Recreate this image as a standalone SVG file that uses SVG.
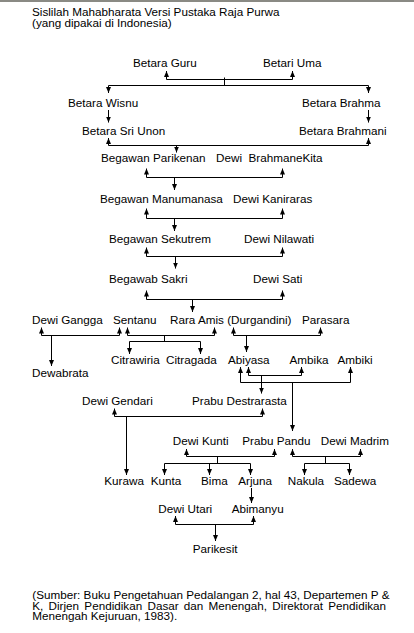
<svg xmlns="http://www.w3.org/2000/svg" width="414" height="633" viewBox="0 0 414 633">
<style>
text{font-family:"Liberation Sans",Arial,sans-serif;font-size:11.7px;fill:#000}
.c path{fill:none;stroke:#000;stroke-width:1}
.a{marker-end:url(#ah)}
.b{marker-start:url(#ah);marker-end:url(#ah)}
</style>
<defs>
<marker id="ah" viewBox="0 0 6 6" refX="6" refY="3" markerWidth="6" markerHeight="6" markerUnits="userSpaceOnUse" orient="auto-start-reverse">
<path d="M0,0.5 L6,3 L0,5.5 z" fill="#000"/>
</marker>
</defs>
<rect x="0" y="0" width="414" height="2" fill="#8a8a84"/>
<g id="title">
<text x="32" y="16">Sislilah Mahabharata Versi Pustaka Raja Purwa</text>
<text x="32" y="27">(yang dipakai di Indonesia)</text>
</g>
<g class="c" id="connectors">
<path class="b" d="M166.5,71 V79.5 H292.5 V71"/>
<path d="M224.5,77.5 V85.5"/>
<path class="b" d="M108.5,93 V85.5 H368.5 V93"/>
<path class="a" d="M108.5,110 V122.5"/>
<path class="a" d="M368.5,110 V122.5"/>
<path class="b" d="M108.5,138 V145.5 H368.5 V138"/>
<path class="a" d="M176.5,145.5 V152.5"/>
<path class="b" d="M146.5,168.5 V177.5 H282.5 V168.5"/>
<path class="a" d="M174.5,177.5 V190"/>
<path class="b" d="M146.5,208.5 V218.5 H282.5 V208.5"/>
<path class="a" d="M174.5,218.5 V231"/>
<path class="b" d="M146.5,247.5 V256.5 H282.5 V247.5"/>
<path class="a" d="M175.5,256.5 V268.5"/>
<path class="b" d="M146.5,290.5 V299.5 H282.5 V290.5"/>
<path class="a" d="M192.5,299.5 V312"/>
<path class="b" d="M41.5,327.5 V335.5 H119.5 V327.5"/>
<path class="a" d="M51.5,335.5 V366"/>
<path class="b" d="M127.5,327.5 V335.5 H214.5 V327.5"/>
<path d="M164.5,335.5 V341.5"/>
<path class="b" d="M129.5,354 V341.5 H200.5 V354"/>
<path class="b" d="M233.5,327.5 V335.5 H320.5 V327.5"/>
<path class="a" d="M246.5,335.5 V352"/>
<path class="b" d="M248.5,367 V375.5 H301.5 V367"/>
<path class="b" d="M240.5,367 V382.5 H350.5 V367"/>
<path class="a" d="M261.5,375.5 V393.5"/>
<path class="a" d="M292.5,382.5 V431"/>
<path class="b" d="M114.5,408.5 V416.5 H262.5 V408.5"/>
<path class="a" d="M126.5,416.5 V475"/>
<path class="b" d="M186.5,449 V456.5 H274.5 V449"/>
<path d="M217.5,456.5 V463.5"/>
<path class="b" d="M164.5,475 V463.5 H250.5 V475"/>
<path class="a" d="M209.5,463.5 V475"/>
<path class="b" d="M292.5,449 V456.5 H360.5 V449"/>
<path d="M325.5,456.5 V463.5"/>
<path class="b" d="M304.5,475 V463.5 H349.5 V475"/>
<path class="a" d="M251.5,488 V503"/>
<path class="b" d="M175.5,516 V524.5 H253.5 V516"/>
<path class="a" d="M215.5,524.5 V541"/>
</g>
<g id="betara-guru"><text x="133" y="67">Betara Guru</text></g>
<g id="betari-uma"><text x="263" y="67">Betari Uma</text></g>
<g id="betara-wisnu"><text x="68" y="107">Betara Wisnu</text></g>
<g id="betara-brahma"><text x="302" y="107">Betara Brahma</text></g>
<g id="betara-sri-unon"><text x="82" y="135">Betara Sri Unon</text></g>
<g id="betara-brahmani"><text x="299" y="135">Betara Brahmani</text></g>
<g id="begawan-parikenan"><text x="101" y="162">Begawan Parikenan</text></g>
<g id="dewi-brahmanekita"><text x="216" y="162" xml:space="preserve" style="white-space:pre">Dewi  BrahmaneKita</text></g>
<g id="begawan-manumanasa"><text x="100" y="203">Begawan Manumanasa</text></g>
<g id="dewi-kaniraras"><text x="233" y="203">Dewi Kaniraras</text></g>
<g id="begawan-sekutrem"><text x="109" y="243">Begawan Sekutrem</text></g>
<g id="dewi-nilawati"><text x="244" y="243">Dewi Nilawati</text></g>
<g id="begawab-sakri"><text x="109" y="283">Begawab Sakri</text></g>
<g id="dewi-sati"><text x="253" y="283">Dewi Sati</text></g>
<g id="dewi-gangga"><text x="32" y="324">Dewi Gangga</text></g>
<g id="sentanu"><text x="113" y="324">Sentanu</text></g>
<g id="rara-amis"><text x="170" y="324">Rara Amis (Durgandini)</text></g>
<g id="parasara"><text x="302" y="324">Parasara</text></g>
<g id="dewabrata"><text x="32" y="377">Dewabrata</text></g>
<g id="citrawiria"><text x="111" y="364">Citrawiria</text></g>
<g id="citragada"><text x="166" y="364">Citragada</text></g>
<g id="abiyasa"><text x="228" y="364">Abiyasa</text></g>
<g id="ambika"><text x="289.5" y="364">Ambika</text></g>
<g id="ambiki"><text x="337.5" y="364">Ambiki</text></g>
<g id="dewi-gendari"><text x="82" y="405">Dewi Gendari</text></g>
<g id="prabu-destrarasta"><text x="192" y="405">Prabu Destrarasta</text></g>
<g id="dewi-kunti"><text x="172.7" y="445">Dewi Kunti</text></g>
<g id="prabu-pandu"><text x="242.3" y="445">Prabu Pandu</text></g>
<g id="dewi-madrim"><text x="320.7" y="445">Dewi Madrim</text></g>
<g id="kurawa"><text x="104.3" y="485">Kurawa</text></g>
<g id="kunta"><text x="150.7" y="485">Kunta</text></g>
<g id="bima"><text x="201" y="485">Bima</text></g>
<g id="arjuna"><text x="238.3" y="485">Arjuna</text></g>
<g id="nakula"><text x="287.7" y="485">Nakula</text></g>
<g id="sadewa"><text x="334" y="485">Sadewa</text></g>
<g id="dewi-utari"><text x="158.3" y="513.3">Dewi Utari</text></g>
<g id="abimanyu"><text x="231.7" y="513.3">Abimanyu</text></g>
<g id="parikesit"><text x="192.7" y="553.3">Parikesit</text></g>
<g id="source">
<text x="32.3" y="598.7">(Sumber: Buku Pengetahuan Pedalangan 2, hal 43, Departemen P &amp;</text>
<text x="32.3" y="609.5" word-spacing="2">K, Dirjen Pendidikan Dasar dan Menengah, Direktorat Pendidikan</text>
<text x="32.3" y="620.3">Menengah Kejuruan, 1983).</text>
</g>
</svg>
